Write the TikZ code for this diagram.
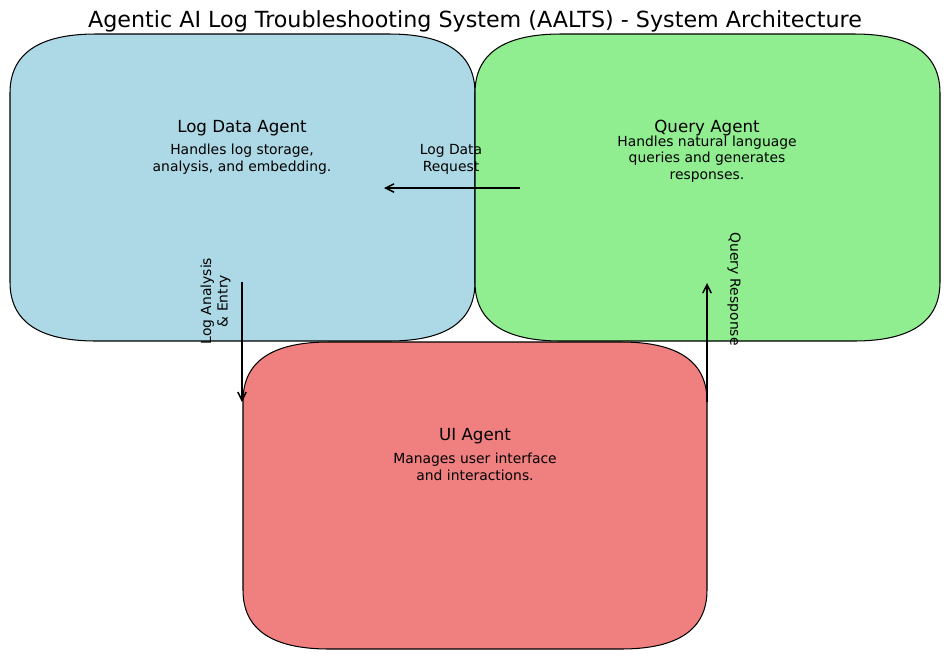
\documentclass[tikz,border=0pt]{standalone}
\usepackage{fontspec}
\setmainfont{DejaVu Sans}
\usetikzlibrary{arrows.meta}
\definecolor{lblue}{HTML}{ADD8E6}
\definecolor{lgreen}{HTML}{90EE90}
\definecolor{lcoral}{HTML}{F08080}
\newcommand\aaltsbox[5]{%
  \draw[boxline,fill=#5]
    ({#1+86},#2) -- ({#3-86},#2)
    .. controls ({#3-28.7},#2) and (#3,{#2+19.7}) .. (#3,{#2+59})
    -- (#3,{#4-59})
    .. controls (#3,{#4-19.7}) and ({#3-28.7},#4) .. ({#3-86},#4)
    -- ({#1+86},#4)
    .. controls ({#1+28.7},#4) and (#1,{#4-19.7}) .. (#1,{#4-59})
    -- (#1,{#2+59})
    .. controls (#1,{#2+19.7}) and ({#1+28.7},#2) .. cycle;}
\tikzset{
  boxline/.style={draw=black,line width=0.75pt},
  agentname/.style={font=\fontsize{12}{14.4}\selectfont,inner sep=0pt},
  agentdesc/.style={font=\fontsize{10}{12}\selectfont,align=center,inner sep=0pt},
  flowlabel/.style={font=\fontsize{10}{12}\selectfont,align=center,inner sep=0pt},
  flow/.style={line width=1.1pt,-{Straight Barb[length=6pt,width=6pt,line width=1.1pt]}},
}
\begin{document}
\begin{tikzpicture}[x=0.72pt,y=-0.72pt]
\useasboundingbox (0,0) rectangle (950,660);
\node[font=\fontsize{16}{19.2}\selectfont,inner sep=0pt] (title) at (475,21) {Agentic AI Log Troubleshooting System (AALTS) - System Architecture};
% boxes
\aaltsbox{10}{34}{475}{341}{lblue}
\aaltsbox{475}{34}{940}{341}{lgreen}
\aaltsbox{243}{342}{707}{649}{lcoral}
% texts
\node[agentname] (logname) at (242,128) {Log Data Agent};
\node[agentdesc] (logdesc) at (242,159) {Handles log storage,\\analysis, and embedding.};
\node[agentname] (qname) at (707,128) {Query Agent};
\node[agentdesc] (qdesc) at (707,159) {Handles natural language\\queries and generates\\responses.};
\node[agentname] (uiname) at (475,436) {UI Agent};
\node[agentdesc] (uidesc) at (475,467) {Manages user interface\\and interactions.};
% connector end points
\coordinate (reqS) at (520,188);
\coordinate (reqE) at (384,188);
\coordinate (anaS) at (242,282);
\coordinate (anaE) at (242,402);
\coordinate (resS) at (707,402);
\coordinate (resE) at (707,283);
\draw[flow] (reqS) -- (reqE);
\draw[flow] (anaS) -- (anaE);
\draw[flow] (resS) -- (resE);
\node[flowlabel] (reqL) at (451,159.5) {Log Data\\Request};
\node[flowlabel,rotate=90] (anaL) at (215.5,301) {Log Analysis\\\& Entry};
\node[flowlabel,rotate=-90] (resL) at (734,289) {Query Response};
\end{tikzpicture}
\end{document}
